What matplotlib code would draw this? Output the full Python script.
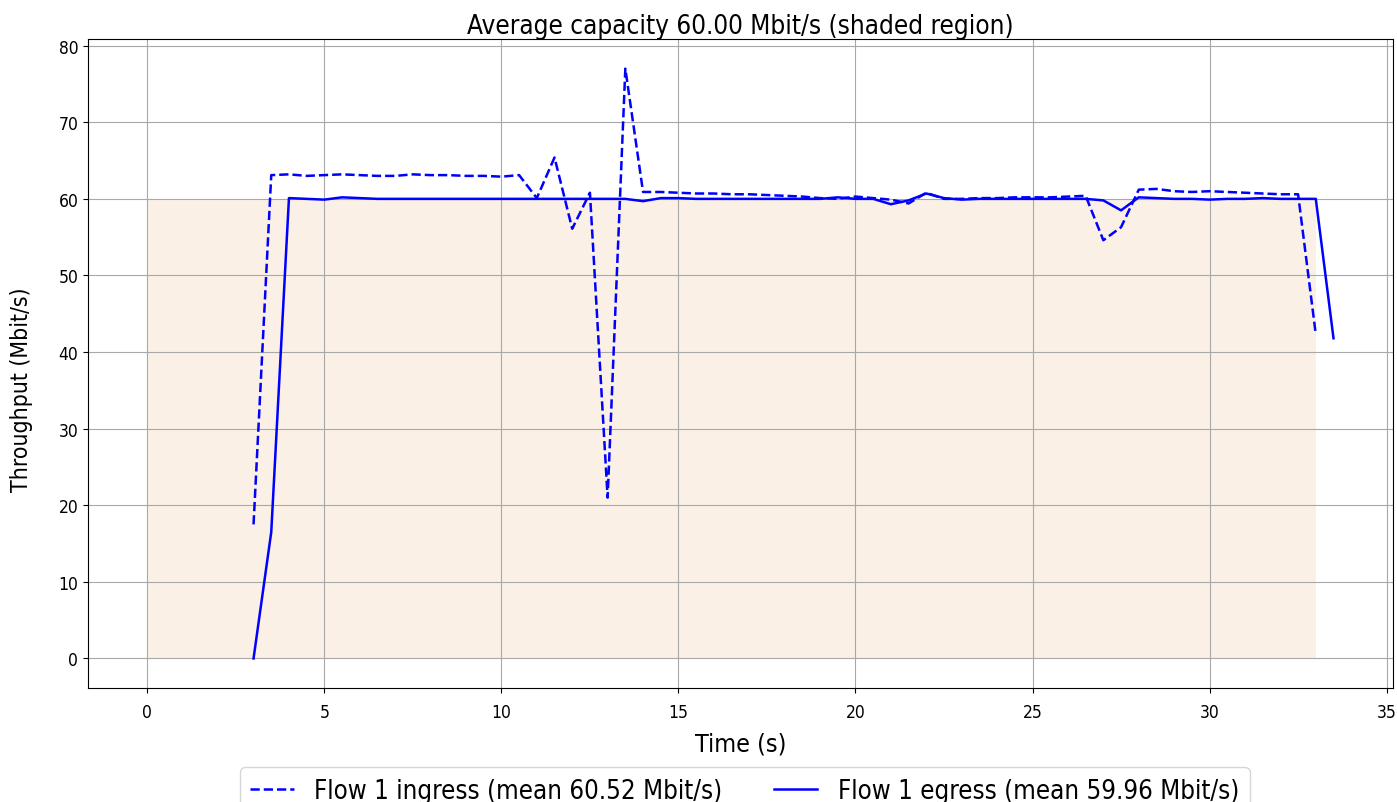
import matplotlib
matplotlib.use('Agg')
import matplotlib.pyplot as plt

plt.rcParams['font.stretch'] = 'condensed'

# link capacity (shaded region)
capacity_t = [0, 33]
capacity = [60.0, 60.0]

ingress_t = [3.0, 3.5, 4.0, 4.5, 5.0, 5.5, 6.0, 6.5, 7.0, 7.5, 8.0, 8.5, 9.0, 9.5,
             10.0, 10.5, 11.0, 11.5, 12.0, 12.5, 13.0, 13.5, 14.0, 14.5, 15.0, 15.5,
             16.0, 16.5, 17.0, 17.5, 18.0, 18.5, 19.0, 19.5, 20.0, 20.5, 21.0, 21.5,
             22.0, 22.5, 23.0, 23.5, 24.0, 24.5, 25.0, 25.5, 26.0, 26.5, 27.0, 27.5,
             28.0, 28.5, 29.0, 29.5, 30.0, 30.5, 31.0, 31.5, 32.0, 32.5, 33.0]
ingress = [17.5, 63.1, 63.2, 63.0, 63.1, 63.2, 63.1, 63.0, 63.0, 63.2, 63.1, 63.1, 63.0, 63.0,
           62.9, 63.1, 60.1, 65.4, 56.1, 60.8, 21.0, 77.0, 60.9, 60.9, 60.8, 60.7,
           60.7, 60.6, 60.6, 60.5, 60.4, 60.3, 60.1, 60.0, 60.3, 60.1, 59.9, 59.4,
           60.8, 60.0, 60.0, 60.1, 60.1, 60.2, 60.2, 60.2, 60.3, 60.4, 54.6, 56.3,
           61.2, 61.3, 61.0, 60.9, 61.0, 60.9, 60.8, 60.7, 60.6, 60.6, 42.3]

egress_t = [3.0, 3.5, 4.0, 4.5, 5.0, 5.5, 6.0, 6.5, 7.0, 7.5, 8.0, 8.5, 9.0, 9.5,
            10.0, 10.5, 11.0, 11.5, 12.0, 12.5, 13.0, 13.5, 14.0, 14.5, 15.0, 15.5,
            16.0, 16.5, 17.0, 17.5, 18.0, 18.5, 19.0, 19.5, 20.0, 20.5, 21.0, 21.5,
            22.0, 22.5, 23.0, 23.5, 24.0, 24.5, 25.0, 25.5, 26.0, 26.5, 27.0, 27.5,
            28.0, 28.5, 29.0, 29.5, 30.0, 30.5, 31.0, 31.5, 32.0, 32.5, 33.0, 33.5]
egress = [0.0, 16.5, 60.1, 60.0, 59.9, 60.2, 60.1, 60.0, 60.0, 60.0, 60.0, 60.0, 60.0, 60.0,
          60.0, 60.0, 60.0, 60.0, 60.0, 60.0, 60.0, 60.0, 59.7, 60.1, 60.1, 60.0,
          60.0, 60.0, 60.0, 60.0, 60.0, 60.0, 60.0, 60.2, 60.0, 60.0, 59.3, 59.8,
          60.7, 60.1, 59.9, 60.0, 60.0, 60.0, 60.0, 60.0, 60.0, 60.0, 59.8, 58.5,
          60.2, 60.1, 60.0, 60.0, 59.9, 60.0, 60.0, 60.1, 60.0, 60.0, 60.0, 41.8]

title = 'Average capacity 60.00 Mbit/s (shaded region)'
ingress_label = 'Flow 1 ingress (mean 60.52 Mbit/s)'
egress_label = 'Flow 1 egress (mean 59.96 Mbit/s)'

fig, ax = plt.subplots(figsize=(13.97, 8.03), dpi=100)
fig.subplots_adjust(left=0.063, right=0.997, top=0.950, bottom=0.142)

ax.fill_between(capacity_t, 0, capacity, facecolor='linen')
ax.plot(ingress_t, ingress, color='b', linestyle='dashed', linewidth=1.8, label=ingress_label)
ax.plot(egress_t, egress, color='b', linewidth=1.8, label=egress_label)

ax.set_title(title, fontsize=18.7, pad=3)
ax.set_xlabel('Time (s)', fontsize=18, labelpad=8)
ax.set_ylabel('Throughput (Mbit/s)', fontsize=16.5)
ax.yaxis.set_label_coords(-0.042, 0.461)
ax.tick_params(labelsize=12.5)
ax.tick_params(axis='x', pad=7)
ax.grid(color='#a8a8a8')

ax.legend(loc='upper center', bbox_to_anchor=(0.533, 0.059), bbox_transform=fig.transFigure,
          ncol=2, fontsize=18.5, handlelength=1.7)

fig.savefig('out.png', dpi=100)
